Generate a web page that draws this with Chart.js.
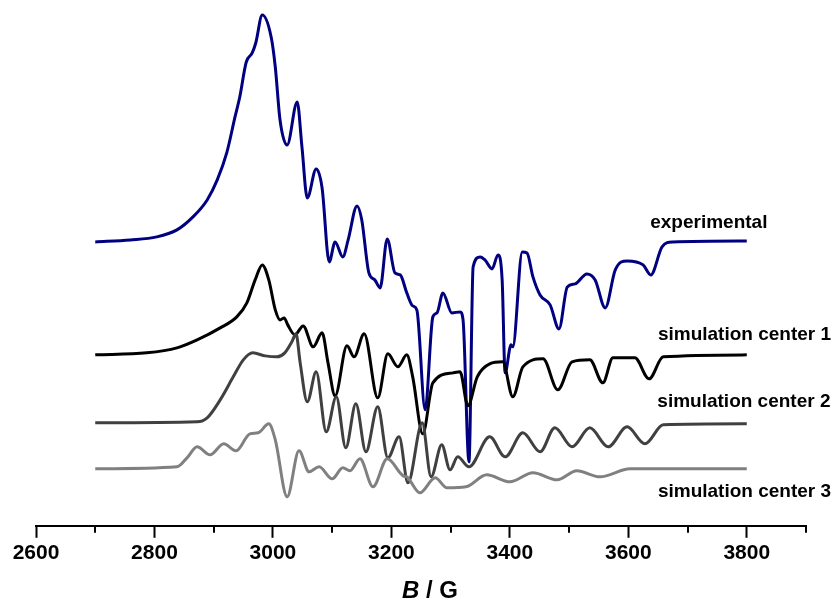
<!DOCTYPE html>
<html>
<head>
<meta charset="utf-8">
<script src="https://cdn.jsdelivr.net/npm/chart.js@4.4.0/dist/chart.umd.min.js"></script>
<style>
  html, body { margin: 0; padding: 0; background: #fff; }
  #wrap { width: 840px; height: 603px; position: relative; }
</style>
</head>
<body>
<div id="wrap"><canvas id="myChart"></canvas></div>
<script>
// field values (G) and plotted intensity (arbitrary units, spectra stacked)
const expField = [2700, 2759, 2804, 2838, 2865, 2889, 2906, 2922, 2936, 2944, 2955, 2965, 2971, 2982, 2997, 3004, 3012, 3024, 3041, 3049, 3058, 3073, 3083, 3095, 3105, 3118, 3127, 3142, 3150, 3162, 3172, 3181, 3193, 3206, 3215, 3226, 3236, 3243, 3257, 3270, 3277, 3287, 3302, 3316, 3321, 3331, 3338, 3350, 3358, 3370, 3380, 3387, 3392, 3402, 3405, 3421, 3429, 3439, 3451, 3468, 3483, 3497, 3510, 3530, 3544, 3561, 3578, 3598, 3625, 3638, 3657, 3675, 3800];
const expSignal = [284, 286, 289, 296, 309, 326, 346, 373, 409, 429, 464, 473, 483, 511, 489, 459, 406, 381, 424, 379, 328, 357, 338, 264, 284, 269, 286, 320, 306, 253, 246, 238, 287, 253, 251, 233, 220, 216, 116, 209, 213, 233, 213, 214, 206, 64, 259, 269, 266, 257, 271, 246, 153, 181, 179, 274, 273, 249, 231, 221, 197, 239, 242, 252, 246, 218, 256, 265, 261, 251, 279, 284, 285];

const sim1Field = [2700, 2787, 2838, 2872, 2911, 2939, 2956, 2970, 2982, 2993, 3004, 3012, 3019, 3025, 3037, 3051, 3068, 3083, 3093, 3105, 3125, 3137, 3154, 3177, 3194, 3211, 3226, 3236, 3253, 3270, 3304, 3316, 3329, 3345, 3366, 3388, 3405, 3422, 3456, 3481, 3505, 3535, 3557, 3574, 3611, 3635, 3659, 3800];
const sim1Signal = [171, 173, 178, 186, 198, 209, 223, 246, 261, 246, 216, 206, 208, 201, 191, 200, 179, 193, 163, 130, 180, 169, 192, 128, 172, 159, 171, 149, 92, 143, 153, 154, 120, 149, 162, 164, 129, 159, 167, 136, 164, 166, 143, 168, 168, 147, 169, 171];

const sim2Field = [2700, 2872, 2889, 2911, 2933, 2950, 2966, 2987, 3007, 3020, 3032, 3039, 3046, 3058, 3073, 3090, 3107, 3123, 3140, 3157, 3177, 3194, 3213, 3228, 3252, 3267, 3285, 3299, 3312, 3331, 3366, 3392, 3422, 3451, 3476, 3505, 3535, 3566, 3598, 3628, 3659, 3800];
const sim2Signal = [103, 104, 108, 126, 149, 166, 173, 170, 169, 173, 184, 192, 163, 124, 154, 94, 129, 78, 122, 74, 119, 68, 89, 43, 103, 49, 81, 56, 69, 59, 89, 69, 93, 74, 98, 79, 98, 79, 99, 82, 101, 102];

const sim3Field = [2700, 2838, 2855, 2872, 2894, 2917, 2938, 2961, 2975, 2993, 3004, 3024, 3044, 3061, 3078, 3100, 3118, 3130, 3147, 3169, 3193, 3220, 3226, 3248, 3274, 3294, 3326, 3361, 3400, 3439, 3480, 3513, 3552, 3603, 3800];
const sim3Signal = [57, 59, 68, 79, 71, 82, 75, 92, 93, 102, 86, 29, 75, 54, 59, 47, 58, 55, 67, 39, 67, 50, 49, 33, 48, 38, 39, 51, 44, 53, 46, 55, 49, 57, 57];

const seriesNames = ['experimental', 'simulation center 1', 'simulation center 2', 'simulation center 3'];
const seriesColors = ['#000080', '#000000', '#404040', '#808080'];
const majorTicks = [2600, 2800, 3000, 3200, 3400, 3600, 3800];

function toPoints(xs, ys) {
    return xs.map((x, i) => ({ x: x, y: ys[i] }));
}

const fields = [expField, sim1Field, sim2Field, sim3Field];
const signals = [expSignal, sim1Signal, sim2Signal, sim3Signal];

// label anchors: field value and y (same units as signals)
const labelAnchors = [[3637, 298], [3650, 186], [3649, 119], [3650, 29]];

const extras = {
    id: 'extras',
    afterDraw(chart) {
        const ctx = chart.ctx;
        const xs = chart.scales.x;
        const ys = chart.scales.y;
        const bottom = chart.chartArea.bottom;
        ctx.save();
        // minor ticks
        ctx.strokeStyle = '#000';
        ctx.lineWidth = 2;
        for (let v = 2700; v <= 3900; v += 200) {
            const px = Math.round(xs.getPixelForValue(v));
            ctx.beginPath();
            ctx.moveTo(px, bottom);
            ctx.lineTo(px, bottom + 7);
            ctx.stroke();
        }
        // series labels
        ctx.fillStyle = '#000';
        ctx.font = 'bold 19px "Liberation Sans", Arial, sans-serif';
        ctx.textBaseline = 'alphabetic';
        ctx.textAlign = 'left';
        seriesNames.forEach((name, i) => {
            ctx.fillText(name, xs.getPixelForValue(labelAnchors[i][0]), ys.getPixelForValue(labelAnchors[i][1]));
        });
        // axis title  B / G
        ctx.font = 'italic bold 24px "Liberation Sans", Arial, sans-serif';
        const wB = ctx.measureText('B').width;
        ctx.font = 'bold 24px "Liberation Sans", Arial, sans-serif';
        const wRest = ctx.measureText(' / G').width;
        const cx = xs.getPixelForValue(3265);
        let x0 = cx - (wB + wRest) / 2;
        const yb = 598;
        ctx.font = 'italic bold 24px "Liberation Sans", Arial, sans-serif';
        ctx.fillText('B', x0, yb);
        ctx.font = 'bold 24px "Liberation Sans", Arial, sans-serif';
        ctx.fillText(' / G', x0 + wB, yb);
        ctx.restore();
    }
};

const ctx = document.getElementById('myChart').getContext('2d');
new Chart(ctx, {
    type: 'line',
    data: {
        datasets: seriesNames.map((name, i) => ({
            label: name,
            data: toPoints(fields[i], signals[i]),
            borderColor: seriesColors[i],
            borderWidth: 3,
            pointRadius: 0,
            fill: false,
            cubicInterpolationMode: 'monotone'
        })).reverse()
    },
    options: {
        responsive: true,
        maintainAspectRatio: false,
        animation: false,
        layout: { padding: { left: 36, right: 34, top: 6, bottom: 34 } },
        plugins: {
            legend: { display: false },
            tooltip: { enabled: false }
        },
        scales: {
            x: {
                type: 'linear',
                min: 2600,
                max: 3900,
                border: { display: true, color: '#000', width: 2 },
                grid: {
                    display: true,
                    drawOnChartArea: false,
                    drawTicks: true,
                    tickLength: 12,
                    tickWidth: 2,
                    tickColor: c => majorTicks.includes(c.tick && c.tick.value) ? '#000' : 'rgba(0,0,0,0)'
                },
                ticks: {
                    stepSize: 100,
                    autoSkip: false,
                    maxRotation: 0,
                    padding: 3,
                    color: '#000',
                    font: { family: '"Liberation Sans", Arial, sans-serif', size: 21, weight: 'bold' },
                    callback: v => majorTicks.includes(v) ? String(v) : ''
                }
            },
            y: {
                display: false,
                min: 0,
                max: 520
            }
        }
    },
    plugins: [extras]
});
</script>
</body>
</html>
